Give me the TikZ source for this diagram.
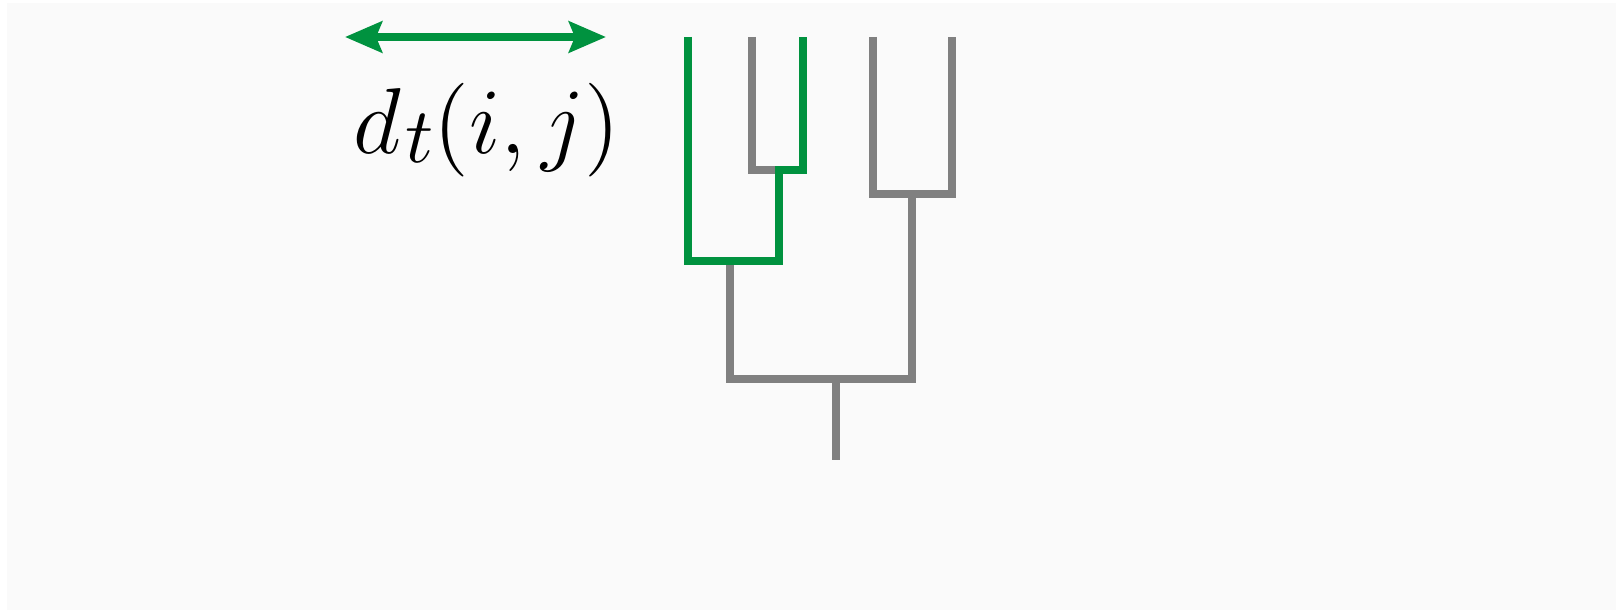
\documentclass[tikz,border=0pt]{standalone}
\usetikzlibrary{arrows.meta}
\definecolor{pathgreen}{RGB}{0,146,63}
\definecolor{branchgray}{RGB}{128,128,128}
\definecolor{paper}{RGB}{250,250,250}
\tikzset{
  branch/.style={draw=branchgray, line width=8pt, line join=miter},
  hilite/.style={draw=pathgreen, line width=8pt, line join=miter},
  span/.style={draw=pathgreen, line width=7.5pt,
    {Stealth[length=37pt,width=31pt,inset=6pt]}-{Stealth[length=37pt,width=31pt,inset=6pt]}},
}
% a large subscript, set a little below the baseline
\newcommand{\bigsub}[1]{\kern0.05em\lower0.1em\hbox{\fontsize{10}{12}\selectfont$#1$}}
\begin{document}
\begin{tikzpicture}[x=1pt,y=-1pt]
\useasboundingbox (0,0) rectangle (1616,610);
\fill[paper] (7,3) rectangle (1616,610);

% leaves (tops of the branches)
\coordinate (l1) at (687.5,37);
\coordinate (l2) at (751.5,37);
\coordinate (l3) at (802.5,37);
\coordinate (l4) at (872.5,37);
\coordinate (l5) at (951.5,37);
% internal joins
\coordinate (j23) at (779,170);
\coordinate (j45) at (912,194);
\coordinate (j123) at (730,261);
\coordinate (root) at (835.5,379);
\coordinate (base) at (835.5,460);

% grey tree
\draw[branch] (l2) |- (j23);
\draw[branch] (l4) |- (j45 -| l5) -- (l5);
\draw[branch] (j123) |- (root -| j45) -- (j45);
\draw[branch] (root) -- (base);

% highlighted path between the two leaves
\draw[hilite] (l1) |- (j123 -| j23) -- (j23) -- (j23 -| l3) -- (l3);

% distance arrow and its label
\coordinate (sl) at (345,37);
\coordinate (sr) at (606,37);
\draw[span] (sl) -- (sr);
\node[anchor=base, inner sep=0pt, scale=7.8] (lbl) at (487,153)
  {\fontsize{12}{14}\selectfont $d\bigsub{t}(i,j)$};
\end{tikzpicture}
\end{document}
